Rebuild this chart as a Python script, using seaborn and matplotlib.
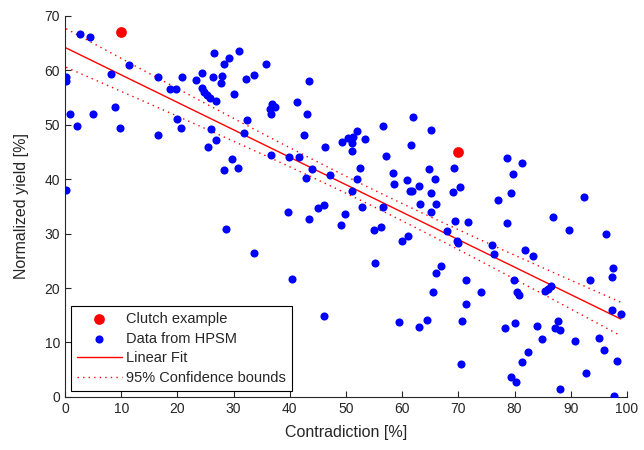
import numpy as np
import seaborn as sns
import matplotlib
matplotlib.use("Agg")
import matplotlib.pyplot as plt

# clutch example points
clutch_x = [10.0, 70.0]
clutch_y = [67.0, 45.0]

# data from HPSM
hpsm_x = [2.7, 4.5, 0.2, 0.2, 11.4, 8.2, 16.6, 18.7, 19.8, 20.8, 23.3, 24.3, 26.4, 26.5, 28.2,
          29.2, 31.0, 28.0, 27.7, 32.2, 33.6, 24.4, 24.8, 25.3, 25.8, 26.9, 30.1, 0.9, 2.1, 4.9,
          8.9, 9.7, 16.6, 19.9, 20.6, 25.9, 26.9, 25.5, 32.3, 31.8, 29.7, 28.3, 30.7, 0.2,
          35.8, 43.4, 41.2, 36.8, 37.4, 36.5, 36.6, 43.1, 42.6, 46.3, 49.3, 50.4, 51.3, 51.9,
          51.0, 51.1, 53.3, 56.6, 62.0, 65.1, 61.6, 57.2, 36.7, 39.9, 41.6, 44.0, 42.9, 47.2,
          52.4, 51.9, 51.1, 58.4, 58.5, 60.8, 62.9, 61.3, 61.7, 64.8, 65.8, 65.2, 66.0, 63.2,
          39.7, 45.1, 46.1, 43.4, 49.9, 49.1, 52.8, 56.6, 55.0, 56.2, 59.9, 61.0, 65.2, 33.7,
          40.4, 55.1, 66.9, 66.0, 65.4, 46.1, 59.5, 62.9, 64.4, 28.6,
          69.3, 78.6, 81.4, 79.7, 69.1, 70.3, 77.0, 79.4, 92.3,
          69.4, 71.7, 78.6, 86.9, 89.7, 96.3, 67.9, 69.8, 69.9, 76.0, 76.3, 81.9, 83.2, 71.4,
          74.0, 79.9, 80.5, 80.8, 85.4, 85.9, 86.4, 93.5, 97.5, 97.3, 97.3, 98.9, 71.3, 70.7,
          70.5, 78.3, 80.1, 84.0, 84.8, 82.4, 81.3, 79.4, 80.2, 87.7, 87.1, 88.1, 90.7, 95.0,
          95.9, 92.7, 98.3, 88.0, 97.7]
hpsm_y = [66.6, 66.1, 58.8, 58.0, 60.9, 59.3, 58.7, 56.6, 56.6, 58.8, 58.2, 59.5, 58.7, 63.2, 61.1,
          62.3, 63.6, 58.9, 57.6, 58.4, 59.1, 56.7, 56.0, 55.4, 54.9, 54.4, 55.6, 51.9, 49.8, 52.0,
          53.3, 49.4, 48.2, 51.1, 49.4, 49.2, 47.2, 46.0, 50.9, 48.4, 43.7, 41.6, 42.1, 38.0,
          61.1, 58.1, 54.1, 53.8, 53.3, 52.9, 52.0, 52.0, 48.2, 46.0, 46.8, 47.5, 47.8, 48.9,
          46.6, 45.1, 47.4, 49.7, 51.4, 49.0, 46.2, 44.3, 44.5, 44.1, 44.0, 41.9, 40.2, 40.7,
          42.1, 40.1, 37.9, 41.2, 39.2, 39.8, 38.8, 37.9, 37.9, 41.9, 40.1, 37.4, 35.5, 35.5,
          34.0, 34.7, 35.3, 32.6, 33.6, 31.5, 34.9, 34.9, 30.7, 31.2, 28.7, 29.6, 34.0, 26.5,
          21.6, 24.6, 24.0, 22.8, 19.3, 14.8, 13.7, 12.9, 14.2, 30.9,
          42.0, 43.9, 43.0, 41.0, 37.7, 38.6, 36.1, 37.4, 36.7,
          32.4, 32.2, 32.0, 33.0, 30.6, 29.9, 30.4, 28.6, 28.2, 27.9, 26.3, 26.9, 25.8, 21.4,
          19.3, 21.4, 19.3, 18.7, 19.5, 19.9, 20.3, 21.5, 23.6, 22.1, 16.0, 15.2, 17.0, 14.0,
          6.0, 12.6, 13.5, 13.1, 10.7, 8.2, 6.4, 3.6, 2.8, 14.0, 12.7, 12.3, 10.2, 10.9,
          8.6, 4.4, 6.6, 1.5, 0.2]

x_ticks = [0, 10, 20, 30, 40, 50, 60, 70, 80, 90, 100]
y_ticks = [0, 10, 20, 30, 40, 50, 60, 70]

# linear fit + 95% confidence bounds of the fitted line
x = np.array(hpsm_x)
y = np.array(hpsm_y)
n = len(x)
slope, intercept = np.polyfit(x, y, 1)
resid = y - (intercept + slope * x)
s = np.sqrt(np.sum(resid ** 2) / (n - 2))
sxx = np.sum((x - x.mean()) ** 2)
t95 = 1.976
xf = np.linspace(x.min(), x.max(), 200)
yf = intercept + slope * xf
half = t95 * s * np.sqrt(1.0 / n + (xf - x.mean()) ** 2 / sxx)

sns.set_style("white")
plt.rcParams['font.family'] = ['Liberation Sans', 'DejaVu Sans']

fig = plt.figure(figsize=(6.44, 4.5), dpi=100)
ax = fig.add_axes([0.101, 0.118, 0.8726, 0.8466])

sns.scatterplot(x=clutch_x, y=clutch_y, color='#ff0000', s=60, linewidth=0,
                label='Clutch example', ax=ax, zorder=3)
sns.scatterplot(x=hpsm_x, y=hpsm_y, color='#0000ff', s=34, linewidth=0,
                label='Data from HPSM', ax=ax, zorder=3)
sns.lineplot(x=xf, y=yf, color='#ff0000', linewidth=1, label='Linear Fit', ax=ax, zorder=2)
sns.lineplot(x=xf, y=yf + half, color='#ff0000', linewidth=1, linestyle=(0, (1, 3)),
             label='95% Confidence bounds', ax=ax, zorder=2)
sns.lineplot(x=xf, y=yf - half, color='#ff0000', linewidth=1, linestyle=(0, (1, 3)),
             ax=ax, zorder=2)

ax.set_xlim(0, 100)
ax.set_ylim(0, 70)
ax.set_xticks(x_ticks)
ax.set_yticks(y_ticks)
ax.set_xlabel('Contradiction [%]', fontsize=11.5, labelpad=7)
ax.set_ylabel('Normalized yield [%]', fontsize=11.5, labelpad=11)
ax.tick_params(axis='both', direction='in', length=4, width=0.8, labelsize=10,
               color='#262626', bottom=True, left=True)
for lab in ax.get_xticklabels() + ax.get_yticklabels():
    lab.set_family(['Liberation Sans Narrow', 'Liberation Sans'])
for side in ['top', 'right']:
    ax.spines[side].set_visible(False)
for side in ['left', 'bottom']:
    ax.spines[side].set_color('#262626')
    ax.spines[side].set_linewidth(0.8)

leg = ax.legend(loc='lower left', fontsize=10.5, frameon=True, fancybox=False,
                edgecolor='black', framealpha=1, handlelength=3.1, handletextpad=0.3,
                labelspacing=0.4, borderaxespad=0.4, borderpad=0.4)
leg.get_frame().set_linewidth(0.8)

fig.savefig('out.png', dpi=100)
